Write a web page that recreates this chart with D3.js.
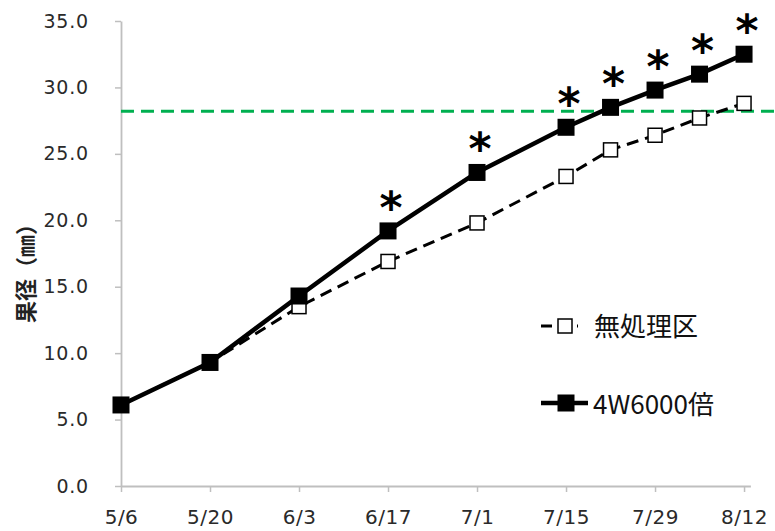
<!DOCTYPE html>
<html>
<head>
<meta charset="utf-8">
<script src="https://cdn.jsdelivr.net/npm/d3@7"></script>
<style>
  html, body { margin: 0; padding: 0; background: #fff; }
  svg { display: block; }
</style>
</head>
<body>
<svg id="chart" width="775" height="531"></svg>
<script>
// ---- data ----
const dates = ["5/6","5/20","6/3","6/17","7/1","7/15","7/22","7/29","8/5","8/12"];
const controlValues = [6.1, 9.3, 13.5, 16.9, 19.8, 23.3, 25.3, 26.4, 27.7, 28.8];
const treatedValues = [6.1, 9.3, 14.3, 19.2, 23.6, 27.0, 28.5, 29.8, 31.0, 32.5];
const significant = [false, false, false, true, true, true, true, true, true, true];
const xTickLabels = ["5/6","5/20","6/3","6/17","7/1","7/15","7/29","8/12"];
const yTicks = [0, 5, 10, 15, 20, 25, 30, 35];
const referenceLevel = 28.2;
const seriesNames = ["無処理区", "4W6000倍"];
const yTitle = "果径（㎜）";

const YEAR = 2019;
const parseMD = s => { const [m, d] = s.split("/").map(Number); return new Date(YEAR, m - 1, d); };

const svg = d3.select("#chart");
const x = d3.scaleTime()
  .domain([parseMD("5/6"), parseMD("8/13")])
  .range([121, 750.4]);
const y = d3.scaleLinear().domain([0, 35]).range([486, 21]);

const axisColor = "#bfbfbf";
const labelFont = "'DejaVu Sans', sans-serif";

// y axis
const gy = svg.append("g").attr("transform", `translate(${x.range()[0]},0)`)
  .call(d3.axisLeft(y).tickValues(yTicks).tickFormat(d3.format(".1f")).tickSize(6).tickSizeOuter(0).tickPadding(26));
gy.select(".domain").attr("stroke", axisColor).attr("stroke-width", 1.8);
gy.selectAll(".tick line").attr("stroke", axisColor).attr("stroke-width", 1.5);
gy.selectAll(".tick text").attr("font-family", labelFont).attr("font-size", 19).attr("fill", "#2a2a2a").attr("letter-spacing", 0.8);

// x axis
const gx = svg.append("g").attr("transform", `translate(0,${y(0)})`)
  .call(d3.axisBottom(x).tickValues(xTickLabels.map(parseMD)).tickFormat((d, i) => xTickLabels[i]).tickSize(6).tickSizeOuter(0).tickPadding(18));
gx.select(".domain").attr("stroke", axisColor).attr("stroke-width", 1.8);
gx.selectAll(".tick line").attr("stroke", axisColor).attr("stroke-width", 1.5);
gx.selectAll(".tick text").attr("font-family", labelFont).attr("font-size", 20).attr("fill", "#2a2a2a").attr("letter-spacing", 0.5);

// y title
svg.append("text")
  .attr("transform", `translate(24,268) rotate(-90)`)
  .attr("text-anchor", "middle")
  .attr("dominant-baseline", "central")
  .attr("font-family", "'Noto Sans CJK JP', sans-serif")
  .attr("font-weight", "bold")
  .attr("font-size", 22)
  .attr("fill", "#222")
  .text(yTitle);

// reference line
svg.append("line")
  .attr("x1", x.range()[0]).attr("x2", 775)
  .attr("y1", y(referenceLevel)).attr("y2", y(referenceLevel))
  .attr("stroke", "#00b050").attr("stroke-width", 3).attr("stroke-dasharray", "13,7");

const pts = vals => vals.map((v, i) => ({ date: parseMD(dates[i]), v, i }));
const line = d3.line().x(d => x(d.date)).y(d => y(d.v));

// control
const ctrl = pts(controlValues);
svg.append("path").datum(ctrl).attr("d", line)
  .attr("fill", "none").attr("stroke", "#000").attr("stroke-width", 3).attr("stroke-dasharray", "12,7");
const cs = 14;
svg.selectAll(".cm").data(ctrl).join("rect")
  .attr("x", d => x(d.date) - cs / 2).attr("y", d => y(d.v) - cs / 2)
  .attr("width", cs).attr("height", cs)
  .attr("fill", "#fff").attr("stroke", "#000").attr("stroke-width", 1.5);

// treated
const trt = pts(treatedValues);
svg.append("path").datum(trt).attr("d", line)
  .attr("fill", "none").attr("stroke", "#000").attr("stroke-width", 4.5);
const ts = 17;
svg.selectAll(".tm").data(trt).join("rect")
  .attr("x", d => x(d.date) - ts / 2).attr("y", d => y(d.v) - ts / 2)
  .attr("width", ts).attr("height", ts).attr("fill", "#000");

// significance stars
svg.selectAll(".star").data(trt.filter(d => significant[d.i])).join("text")
  .attr("x", d => x(d.date) + 3).attr("y", d => y(d.v) - 8)
  .attr("text-anchor", "middle")
  .attr("font-family", labelFont)
  .attr("font-weight", "bold")
  .attr("font-size", 44)
  .attr("fill", "#000")
  .text("*");

// legend
const lg = svg.append("g");
lg.append("line").attr("x1", 541).attr("x2", 578).attr("y1", 326).attr("y2", 326)
  .attr("stroke", "#000").attr("stroke-width", 3).attr("stroke-dasharray", "11,7");
lg.append("rect").attr("x", 565 - cs / 2).attr("y", 326 - cs / 2).attr("width", cs).attr("height", cs)
  .attr("fill", "#fff").attr("stroke", "#000").attr("stroke-width", 1.5);
lg.append("text").attr("x", 594).attr("y", 324).attr("dominant-baseline", "central")
  .attr("font-family", "'Noto Sans CJK JP', sans-serif").attr("font-size", 26).attr("fill", "#111")
  .text(seriesNames[0]);

lg.append("line").attr("x1", 541).attr("x2", 588).attr("y1", 403).attr("y2", 403)
  .attr("stroke", "#000").attr("stroke-width", 4.5);
lg.append("rect").attr("x", 566 - ts / 2).attr("y", 403 - ts / 2).attr("width", ts).attr("height", ts).attr("fill", "#000");
lg.append("text").attr("x", 593).attr("y", 402).attr("dominant-baseline", "central")
  .attr("font-family", "'Noto Sans CJK JP', sans-serif").attr("font-size", 26).attr("fill", "#111")
  .text(seriesNames[1]);
</script>
</body>
</html>
